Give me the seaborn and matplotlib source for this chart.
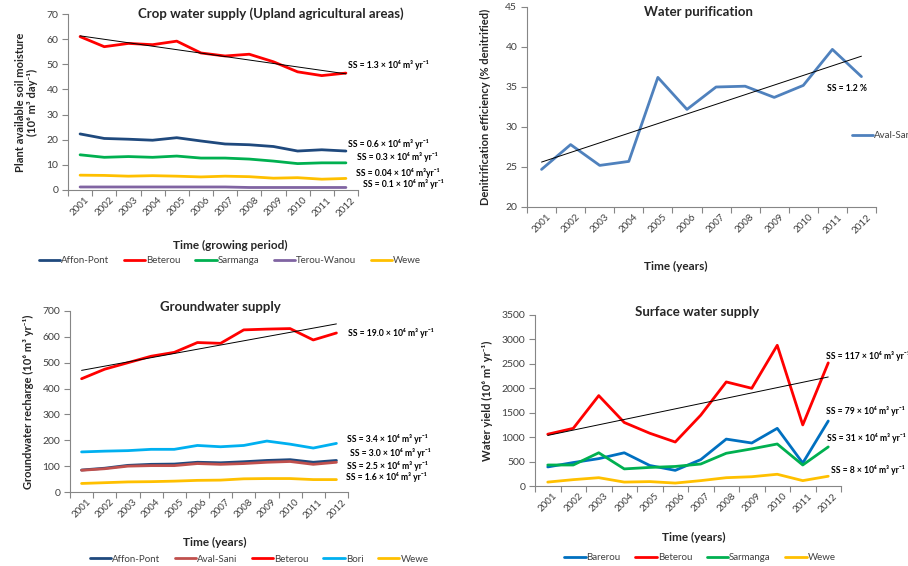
import matplotlib
matplotlib.use("Agg")
import matplotlib.pyplot as plt
import seaborn as sns
import pandas as pd
import numpy as np
from matplotlib.lines import Line2D

sns.set_theme(style="white")
plt.rcParams['font.family'] = ['Lato', 'DejaVu Sans']

years = list(range(2001, 2013))

# ---- Panel 1: Crop water supply ----
crop_sites = ["Affon-Pont", "Beterou", "Sarmanga", "Terou-Wanou", "Wewe"]
crop_affon = [22.3, 20.5, 20.2, 19.8, 20.8, 19.5, 18.3, 18.0, 17.3, 15.5, 16.0, 15.5]
crop_beterou = [61.0, 57.0, 58.3, 57.8, 59.2, 54.5, 53.3, 54.0, 51.0, 47.0, 45.5, 46.5]
crop_sarmanga = [14.0, 13.0, 13.3, 13.0, 13.5, 12.7, 12.7, 12.3, 11.5, 10.5, 10.8, 10.8]
crop_terou = [1.2, 1.2, 1.2, 1.2, 1.2, 1.2, 1.2, 1.0, 1.0, 1.0, 1.0, 1.0]
crop_wewe = [5.9, 5.8, 5.5, 5.7, 5.5, 5.2, 5.5, 5.3, 4.7, 4.9, 4.3, 4.6]
crop_colors = ["#1F497D", "#FF0000", "#00B050", "#8064A2", "#FFC000"]
crop_labels = ["SS = 1.3 × 10⁶ m³ yr⁻¹", "SS = 0.6 × 10⁶ m³ yr⁻¹", "SS = 0.3 × 10⁶ m³ yr⁻¹",
               "SS = 0.04 × 10⁶ m³yr⁻¹", "SS = 0.1 × 10⁶ m³ yr⁻¹"]

# ---- Panel 2: Water purification ----
pur_sites = ["Aval-Sani"]
pur_aval = [24.7, 27.8, 25.2, 25.7, 36.2, 32.2, 35.0, 35.1, 33.7, 35.2, 39.7, 36.3]
pur_colors = ["#4F81BD"]
pur_labels = ["SS = 1.2 %"]

# ---- Panel 3: Groundwater supply ----
gw_sites = ["Affon-Pont", "Aval-Sani", "Beterou", "Bori", "Wewe"]
gw_affon = [85, 92, 103, 107, 108, 115, 113, 117, 122, 125, 115, 122]
gw_aval = [84, 90, 100, 102, 102, 110, 107, 110, 115, 118, 107, 115]
gw_beterou = [438, 475, 500, 525, 540, 578, 575, 627, 630, 632, 588, 615]
gw_bori = [155, 158, 160, 165, 165, 180, 175, 180, 197, 185, 170, 188]
gw_wewe = [33, 36, 39, 40, 42, 45, 46, 51, 52, 52, 48, 48]
gw_colors = ["#1F497D", "#C0504D", "#FF0000", "#00B0F0", "#FFC000"]
gw_labels = ["SS = 19.0 × 10⁶ m³ yr⁻¹", "SS = 3.4 × 10⁶ m³ yr⁻¹", "SS = 3.0 × 10⁶ m³ yr⁻¹",
             "SS = 2.5 × 10⁶ m³ yr⁻¹", "SS = 1.6 × 10⁶ m³ yr⁻¹"]

# ---- Panel 4: Surface water supply ----
sw_sites = ["Barerou", "Beterou", "Sarmanga", "Wewe"]
sw_barerou = [390, 480, 560, 680, 420, 320, 540, 960, 880, 1180, 470, 1330]
sw_beterou = [1060, 1180, 1850, 1300, 1080, 900, 1450, 2130, 2000, 2880, 1250, 2520]
sw_sarmanga = [430, 430, 680, 350, 380, 400, 450, 670, 760, 860, 430, 800]
sw_wewe = [80, 130, 170, 80, 90, 60, 110, 170, 190, 240, 110, 200]
sw_colors = ["#0070C0", "#FF0000", "#00B050", "#FFC000"]
sw_labels = ["SS = 117 × 10⁶ m³ yr⁻¹", "SS = 79 × 10⁶ m³ yr⁻¹", "SS = 31 × 10⁶ m³ yr⁻¹",
             "SS = 8 × 10⁶ m³ yr⁻¹"]

W, H = 908, 566
fig = plt.figure(figsize=(W / 100, H / 100), dpi=100)
fig.patch.set_facecolor("white")


def make_ax(left, top, right, bottom):
    return fig.add_axes([left / W, 1 - bottom / H, (right - left) / W, (bottom - top) / H])


GRAY = "#868686"
TXT = "#404040"


def style(ax, yticks):
    ax.set_xlim(2000.5, 2012.5)
    ax.set_ylim(yticks[0], yticks[-1])
    ax.set_yticks(yticks)
    ax.set_xticks(years)
    ax.set_xticklabels([str(y) for y in years], rotation=45, fontsize=7, color=TXT)
    ax.set_xticks([y - 0.5 for y in years] + [2012.5], minor=True)
    ax.tick_params(axis="x", which="major", length=0, pad=4)
    ax.tick_params(axis="x", which="minor", length=4, color=GRAY, width=0.8, direction="out", bottom=True)
    ax.tick_params(axis="y", length=4, color=GRAY, width=0.8, direction="out", left=True,
                   labelsize=7.5, labelcolor=TXT, pad=3)
    for s in ["top", "right"]:
        ax.spines[s].set_visible(False)
    for s in ["left", "bottom"]:
        ax.spines[s].set_color(GRAY)
        ax.spines[s].set_linewidth(0.8)
    ax.set_facecolor("white")


def draw(ax, sites, series, colors):
    df = pd.DataFrame({
        "year": years * len(sites),
        "value": [v for s in series for v in s],
        "site": [n for n in sites for _ in years],
    })
    sns.lineplot(data=df, x="year", y="value", hue="site", hue_order=sites,
                 palette=dict(zip(sites, colors)), linewidth=2.0, ax=ax, legend=False)
    ax.set_xlabel("")
    ax.set_ylabel("")


def trend(ax, vals):
    sns.regplot(x=np.array(years), y=np.array(vals), ax=ax, scatter=False, ci=None,
                truncate=True, line_kws=dict(color="black", lw=0.7))
    ax.set_xlabel("")
    ax.set_ylabel("")


def legend(ax, sites, colors, cx, cy, loc="center", ncol=None):
    handles = [Line2D([], [], color=c, lw=2.0) for c in colors]
    lg = ax.legend(handles, sites, loc=loc, bbox_to_anchor=(cx / W, 1 - cy / H),
                   bbox_transform=fig.transFigure, ncol=ncol or len(sites), frameon=False,
                   fontsize=7, handlelength=2.2, handletextpad=0.1, columnspacing=1.5,
                   borderpad=0, borderaxespad=0)
    for t in lg.get_texts():
        t.set_color(TXT)


def ann(ax, x, y, text):
    ax.text(x, y, text, fontsize=6.2, fontweight="bold", ha="left", va="center",
            color="black", clip_on=False)


# Panel 1
ax1 = make_ax(68, 14, 358, 190)
draw(ax1, crop_sites, [crop_affon, crop_beterou, crop_sarmanga, crop_terou, crop_wewe], crop_colors)
trend(ax1, crop_beterou)
style(ax1, list(range(0, 71, 10)))
ax1.set_title("Crop water supply (Upland agricultural areas)", fontsize=9.5, fontweight="bold",
              x=0.7, y=1.0, pad=0, va="center")
ax1.set_ylabel("Plant available soil moisture\n(10⁶ m³ day⁻¹)", fontsize=8, fontweight="bold",
               labelpad=6, linespacing=1.1)
ax1.set_xlabel("Time (growing period)", fontsize=8.5, fontweight="bold")
ax1.xaxis.set_label_coords(0.56, -0.285)
for (x, y), t in zip([(2012.07, 49.7), (2012.07, 18.3), (2012.45, 13.1), (2012.4, 6.8), (2012.7, 2.4)], crop_labels):
    ann(ax1, x, y, t)
legend(ax1, crop_sites, crop_colors, 230, 261)

# Panel 2
ax2 = make_ax(527, 7, 876, 207)
draw(ax2, pur_sites, [pur_aval], pur_colors)
trend(ax2, pur_aval)
style(ax2, list(range(20, 46, 5)))
ax2.set_title("Water purification", fontsize=9.5, fontweight="bold", x=0.49, y=0.975, pad=0, va="center")
ax2.set_ylabel("Denitrification efficiency (% denitrified)", fontsize=8, fontweight="bold", labelpad=10)
ax2.set_xlabel("Time (years)", fontsize=8.5, fontweight="bold")
ax2.xaxis.set_label_coords(0.425, -0.27)
ann(ax2, 2010.8, 34.75, pur_labels[0])
legend(ax2, pur_sites, pur_colors, 852, 136, loc="center left", ncol=1)

# Panel 3
ax3 = make_ax(70, 311, 348, 492)
draw(ax3, gw_sites, [gw_affon, gw_aval, gw_beterou, gw_bori, gw_wewe], gw_colors)
trend(ax3, gw_beterou)
style(ax3, list(range(0, 701, 100)))
ax3.set_title("Groundwater supply", fontsize=9.5, fontweight="bold", x=0.54, y=1.02, pad=0, va="center")
ax3.set_ylabel("Groundwater recharge (10⁶ m³ yr⁻¹)", fontsize=8, fontweight="bold", labelpad=6)
ax3.set_xlabel("Time (years)", fontsize=8.5, fontweight="bold")
ax3.xaxis.set_label_coords(0.52, -0.25)
for (x, y), t in zip([(2012.5, 615), (2012.45, 206), (2012.6, 151), (2012.45, 102), (2012.4, 57)], gw_labels):
    ann(ax3, x, y, t)
legend(ax3, gw_sites, gw_colors, 259, 559)

# Panel 4
ax4 = make_ax(535, 315, 841, 486)
draw(ax4, sw_sites, [sw_barerou, sw_beterou, sw_sarmanga, sw_wewe], sw_colors)
trend(ax4, sw_beterou)
style(ax4, list(range(0, 3501, 500)))
ax4.set_title("Surface water supply", fontsize=9.5, fontweight="bold", x=0.53, y=1.02, pad=0, va="center")
ax4.set_ylabel("Water yield (10⁶ m³ yr⁻¹)", fontsize=8, fontweight="bold", labelpad=6)
ax4.set_xlabel("Time (years)", fontsize=8.5, fontweight="bold")
ax4.xaxis.set_label_coords(0.52, -0.27)
for (x, y), t in zip([(2011.9, 2655), (2011.9, 1529), (2011.95, 982), (2012.1, 334)], sw_labels):
    ann(ax4, x, y, t)
legend(ax4, sw_sites, sw_colors, 700, 558)

fig.savefig("out.png", dpi=100, facecolor="white")
